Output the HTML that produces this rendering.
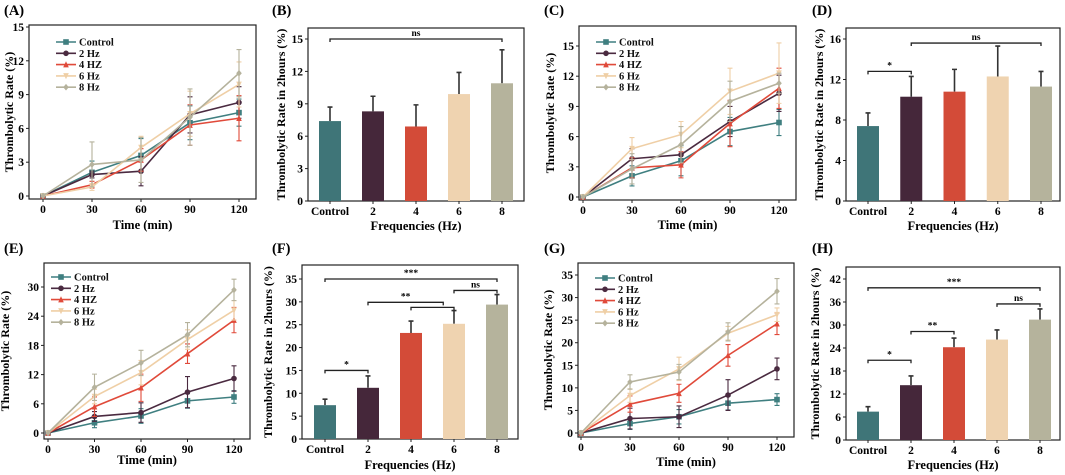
<!DOCTYPE html>
<html><head><meta charset="utf-8"><style>
body{margin:0;background:#fff}
svg{display:block;font-family:"Liberation Serif",serif;font-weight:bold}
</style></head><body>
<svg id="fig" width="1065" height="475" viewBox="0 0 1065 475" xmlns="http://www.w3.org/2000/svg"></svg>
<script>
// ---- data ----
const times = [0, 30, 60, 90, 120];
const seriesNames = ["Control", "2 Hz", "4 HZ", "6 Hz", "8 Hz"];
const barCats = ["Control", "2", "4", "6", "8"];

const aVals = [[0,2.1,3.6,6.5,7.4],[0,1.9,2.2,7.2,8.3],[0,1.0,3.2,6.3,6.9],[0,0.8,4.3,7.3,9.9],[0,2.8,3.2,7.0,10.9]];
const aErr  = [[0,1.0,1.5,1.5,1.2],[0,0.3,1.3,1.6,1.4],[0,0.3,1.0,1.8,2.0],[0,0.3,1.0,2.0,2.0],[0,2.0,2.0,2.5,2.1]];
const bVals = [7.4, 8.3, 6.9, 9.9, 10.9];
const bErr  = [1.3, 1.4, 2.0, 2.0, 3.1];
const cVals = [[0,2.1,3.6,6.5,7.4],[0,3.8,4.2,7.5,10.3],[0,2.9,3.2,7.3,10.8],[0,4.8,6.2,10.5,12.3],[0,2.8,5.2,9.5,11.3]];
const cErr  = [[0,1.0,1.5,1.4,1.3],[0,1.0,1.0,1.5,1.8],[0,1.0,1.3,2.3,2.0],[0,1.1,1.3,2.3,3.0],[0,1.5,1.8,2.0,1.0]];
const dVals = [7.4, 10.3, 10.8, 12.3, 11.3];
const dErr  = [1.3, 2.0, 2.2, 3.0, 1.5];
const eVals = [[0,2.1,3.5,6.6,7.4],[0,3.4,4.2,8.4,11.2],[0,5.4,9.3,16.3,23.2],[0,7.5,12.4,19.2,25.2],[0,9.4,14.4,20.2,29.4]];
const eErr  = [[0,1.0,1.5,1.5,1.3],[0,1.0,2.0,3.2,2.6],[0,2.0,2.8,2.0,2.6],[0,1.5,2.5,2.0,2.0],[0,2.7,2.6,2.5,2.2]];
const fVals = [7.4, 11.2, 23.2, 25.2, 29.4];
const fErr  = [1.3, 2.6, 2.6, 2.9, 2.2];
const gVals = [[0,2.1,3.6,6.6,7.4],[0,3.2,3.6,8.4,14.2],[0,6.4,8.8,17.2,24.2],[0,8.3,14.2,22.1,26.2],[0,11.3,13.5,22.4,31.4]];
const gErr  = [[0,1.3,1.6,1.5,1.3],[0,2.3,2.4,3.4,2.4],[0,1.8,2.0,2.4,2.4],[0,1.5,2.6,1.5,1.5],[0,1.6,1.7,2.0,2.8]];
const hVals = [7.4, 14.3, 24.2, 26.2, 31.4];
const hErr  = [1.3, 2.4, 2.4, 2.5, 2.8];
const aTicks = [0,3,6,9,12,15];
const bTicks = [0,3,6,9,12,15];
const cTicks = [0,3,6,9,12,15];
const dTicks = [0,4,8,12,16];
const eTicks = [0,6,12,18,24,30];
const fTicks = [0,5,10,15,20,25,30,35];
const gTicks = [0,5,10,15,20,25,30,35];
const hTicks = [0,6,12,18,24,30,36,42];
// brackets: [fromIdx, toIdx, yValue, label]
const bSig = [[0,4,15,"ns"]];
const dSig = [[1,4,15.6,"ns"],[0,1,12.8,"*"]];
const fSig = [[0,4,35,"***"],[3,4,32.5,"ns"],[1,2.75,29.9,"**"],[2,3,28.8,""],[0,1,15,"*"]];
const hSig = [[0,4,39.7,"***"],[3,4,35.5,"ns"],[1,2,28.3,"**"],[0,1,20.8,"*"]];

const lineCols = ["#3f7f80","#4a2a40","#e04a3a","#efcfa6","#b5b29c"];
const barCols  = ["#3f7578","#45273a","#d34b38","#efd3b0","#b5b39c"];
const NS="http://www.w3.org/2000/svg";
const svg=document.getElementById("fig");
function mk(tag,attrs,parent,text){const e=document.createElementNS(NS,tag);for(const k in attrs)e.setAttribute(k,attrs[k]);if(text!==undefined)e.textContent=text;(parent||svg).appendChild(e);return e;}

function frame(p,g){
  const fr=mk("rect",{x:p.L,y:p.T,width:p.R-p.L,height:p.B-p.T,fill:"none",stroke:"#222","stroke-width":1.2},g);
  
  
  const lab=mk("text",{x:p.lx,y:p.ly,"font-size":14.5},g,p.label);
  
  
  const ys=v=>p.y0+(p.yT-p.y0)*v/p.tT;
  p.ticks.forEach(t=>{
    const y=ys(t);
    mk("line",{x1:p.L-3,x2:p.L,y1:y,y2:y,stroke:"#222"},g);
    const tl=mk("text",{x:p.L-5,y:y+4,"font-size":11.5,"text-anchor":"end"},g,t);
    
    
  });
  const yt=mk("text",{x:p.ytx,y:(p.T+p.B)/2,"font-size":12,"text-anchor":"middle",transform:`rotate(-90 ${p.ytx} ${(p.T+p.B)/2})`},g,p.ytitle);
  
  
  const xt=mk("text",{x:(p.L+p.R)/2,y:p.xty,"font-size":12.5,"text-anchor":"middle"},g,p.xtitle);
  
  
  return ys;
}
function marker(g,type,x,y,c){
  const s=2.8;
  if(type===0) return mk("rect",{x:x-s,y:y-s,width:2*s,height:2*s,fill:c},g);
  if(type===1) return mk("circle",{cx:x,cy:y,r:s,fill:c},g);
  if(type===2) return mk("polygon",{points:`${x},${y-s-0.5} ${x-s},${y+s} ${x+s},${y+s}`,fill:c},g);
  if(type===3) return mk("polygon",{points:`${x},${y+s+0.5} ${x-s},${y-s} ${x+s},${y-s}`,fill:c},g);
  return mk("polygon",{points:`${x},${y-s-0.5} ${x+s},${y} ${x},${y+s+0.5} ${x-s},${y}`,fill:c},g);
}
function linePanel(p,vals,errs){
  const g=mk("g",{});
  
  
  const ys=frame(p,g);
  const xs=t=>p.x0+(p.x1-p.x0)*t/120;
  times.forEach(t=>{
    mk("line",{x1:xs(t),x2:xs(t),y1:p.B,y2:p.B+3,stroke:"#222"},g);
    const tl=mk("text",{x:xs(t),y:p.B+14,"font-size":11.5,"text-anchor":"middle"},g,t);
    
    
  });
  vals.forEach((sv,si)=>{
    const c=lineCols[si];
    sv.forEach((v,i)=>{
      const e=errs[si][i]; if(!e) return;
      const x=xs(times[i]);
      const eb=mk("path",{d:`M${x},${ys(v-e)}V${ys(v+e)}M${x-2.5},${ys(v-e)}h5M${x-2.5},${ys(v+e)}h5`,stroke:c,"stroke-width":1.1,fill:"none"},g);
      
      
    });
    const pl=mk("polyline",{points:sv.map((v,i)=>xs(times[i])+","+ys(v)).join(" "),fill:"none",stroke:c,"stroke-width":1.6},g);
    
    
    sv.forEach((v,i)=>{
      const m=marker(g,si,xs(times[i]),ys(v),c);
      
      
    });
    const ly=p.legY+si*11.3;
    const le=mk("g",{},g);
    
    
    mk("line",{x1:p.legX,x2:p.legX+20,y1:ly,y2:ly,stroke:c,"stroke-width":1.6},le);
    marker(le,si,p.legX+10,ly,c);
    mk("text",{x:p.legX+23,y:ly+3.5,"font-size":10.5,fill:"#111"},le,seriesNames[si]);
  });
}
function barPanel(p,vals,errs,sig){
  const g=mk("g",{});
  
  
  const ys=frame(p,g);
  const xs=i=>p.bx0+(p.bx4-p.bx0)*i/4;
  vals.forEach((v,i)=>{
    const x=xs(i),w=22;
    const e=errs[i];
    mk("path",{d:`M${x},${ys(v)}V${ys(v+e)}M${x-2.5},${ys(v+e)}h5`,stroke:"#333","stroke-width":1.6},g);
    const b=mk("rect",{x:x-w/2,y:ys(v),width:w,height:ys(0)-ys(v),fill:barCols[i]},g);
    
    
    mk("line",{x1:x,x2:x,y1:p.B,y2:p.B+3,stroke:"#222"},g);
    const tl=mk("text",{x:x,y:p.B+14,"font-size":11.5,"text-anchor":"middle"},g,barCats[i]);
    
    
  });
  sig.forEach(s=>{
    const x1=xs(s[0]),x2=xs(s[1]),y=ys(s[2]);
    const br=mk("path",{d:`M${x1},${y+3}V${y}H${x2}V${y+3}`,stroke:"#222","stroke-width":1.3,fill:"none"},g);
    
    
    if(s[3]){const t=mk("text",{x:(x1+x2)/2,y:y-3,"font-size":9.5,"text-anchor":"middle"},g,s[3]);
      
      }
  });
}
const YL="Thrombolytic Rate (%)", YB="Thrombolytic Rate in 2hours (%)";
linePanel({id:"A",label:"(A)",lx:4,ly:15,L:29,R:256,T:25,B:199,y0:196,yT:27,tT:15,ticks:aTicks,x0:43,x1:239,ytx:13,ytitle:YL,xty:229,xtitle:"Time (min)",legX:56,legY:42},aVals,aErr);
barPanel({id:"B",label:"(B)",lx:272,ly:15,L:308,R:524,T:28,B:201,y0:201,yT:39,tT:15,ticks:bTicks,bx0:330,bx4:502,ytx:285,ytitle:YB,xty:230,xtitle:"Frequencies (Hz)"},bVals,bErr,bSig);
linePanel({id:"C",label:"(C)",lx:544,ly:15,L:579,R:796,T:26,B:200,y0:197,yT:46,tT:15,ticks:cTicks,x0:583,x1:779,ytx:554,ytitle:YL,xty:229,xtitle:"Time (min)",legX:596,legY:42},cVals,cErr);
barPanel({id:"D",label:"(D)",lx:812,ly:15,L:846,R:1060,T:28,B:201,y0:201,yT:39,tT:16,ticks:dTicks,bx0:868,bx4:1041,ytx:823,ytitle:YB,xty:230,xtitle:"Frequencies (Hz)"},dVals,dErr,dSig);
linePanel({id:"E",label:"(E)",lx:4,ly:253,L:44,R:250,T:263,B:439,y0:433,yT:287,tT:30,ticks:eTicks,x0:48,x1:234,ytx:9,ytitle:YL,xty:464,xtitle:"Time (min)",legX:51,legY:277},eVals,eErr);
barPanel({id:"F",label:"(F)",lx:272,ly:253,L:302,R:518,T:265,B:439,y0:439,yT:279,tT:35,ticks:fTicks,bx0:325,bx4:497,ytx:272,ytitle:YB,xty:469,xtitle:"Frequencies (Hz)"},fVals,fErr,fSig);
linePanel({id:"G",label:"(G)",lx:544,ly:253,L:578,R:794,T:263,B:437,y0:433,yT:275,tT:35,ticks:gTicks,x0:581,x1:777,ytx:552,ytitle:YL,xty:466,xtitle:"Time (min)",legX:595,legY:278},gVals,gErr);
barPanel({id:"H",label:"(H)",lx:812,ly:253,L:846,R:1060,T:267,B:440,y0:440,yT:279,tT:42,ticks:hTicks,bx0:868,bx4:1040,ytx:819,ytitle:YB,xty:469,xtitle:"Frequencies (Hz)"},hVals,hErr,hSig);
</script>
</body></html>
